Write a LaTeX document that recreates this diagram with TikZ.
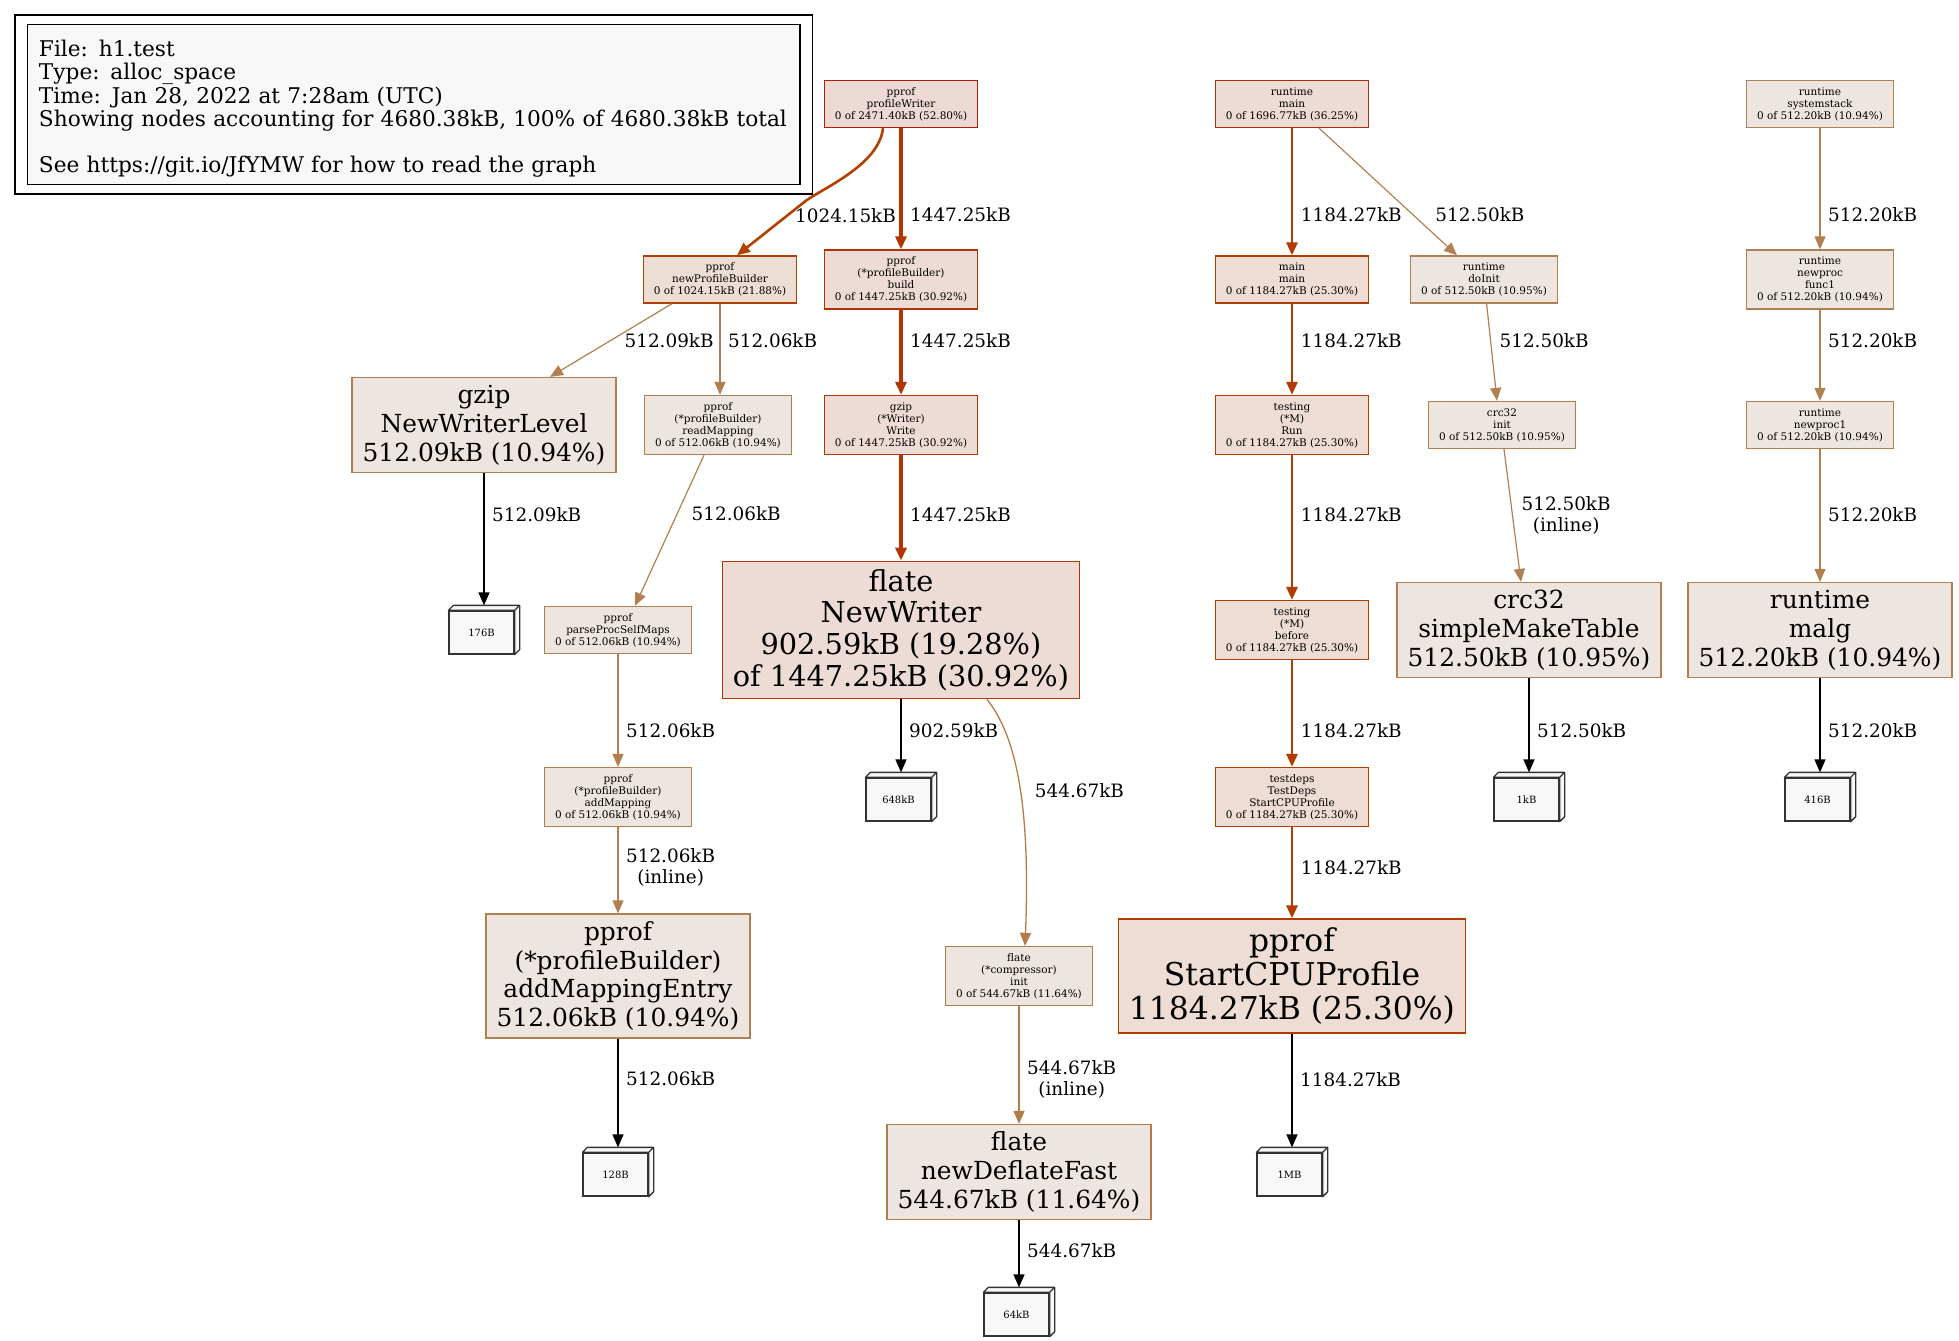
\documentclass[tikz,border=0pt]{standalone}
\usepackage{fontspec}
\setmainfont{DejaVu Serif}
\usetikzlibrary{positioning,arrows.meta}
\definecolor{line528}{HTML}{B21F00}
\definecolor{fill528}{HTML}{EDD9D5}
\definecolor{line362}{HTML}{B22E00}
\definecolor{fill362}{HTML}{EDDBD5}
\definecolor{line309}{HTML}{B23400}
\definecolor{fill309}{HTML}{EDDCD5}
\definecolor{line253}{HTML}{B23C00}
\definecolor{fill253}{HTML}{EDDDD5}
\definecolor{line219}{HTML}{B24100}
\definecolor{fill219}{HTML}{EDDED5}
\definecolor{line116}{HTML}{B27C4A}
\definecolor{fill116}{HTML}{EDE5DF}
\definecolor{line109}{HTML}{B28050}
\definecolor{fill109}{HTML}{EDE6E0}
\definecolor{paper}{HTML}{F8F8F8}

\begin{document}
\begin{tikzpicture}[x=0.5pt,y=0.5pt,on grid,>={Triangle[length=6.5pt,width=5.5pt]},
  fn/.style={draw,align=center,inner xsep=5.25pt,inner ysep=0pt,line width=0.65pt},
  fn8/.style={fn,font=\fontsize{5.24pt}{6pt}\selectfont,minimum height=23.5pt},
  fn8q/.style={fn8,minimum height=29.5pt},
  fn19/.style={fn,font=\fontsize{12.45pt}{14.45pt}\selectfont,minimum height=47.5pt},
  c528/.style={draw=line528,fill=fill528},
  c362/.style={draw=line362,fill=fill362},
  c309/.style={draw=line309,fill=fill309},
  c253/.style={draw=line253,fill=fill253},
  c219/.style={draw=line219,fill=fill219},
  c116/.style={draw=line116,fill=fill116},
  c109/.style={draw=line109,fill=fill109},
  leafbox/.style={draw=black!80,fill=paper,line width=0.65pt,minimum width=32.5pt,minimum height=21.5pt,inner sep=0pt,xshift=-1.25pt,yshift=-1.25pt,font=\fontsize{5pt}{6pt}\selectfont},
  leafline/.style={draw=black!80,fill=paper,line width=0.65pt,line join=round},
  e309/.style={draw=line309,line width=1.6pt},
  e253/.style={draw=line253,line width=1.45pt},
  e219/.style={draw=line219,line width=1.3pt},
  e116/.style={draw=line116,line width=0.65pt},
  e109/.style={draw=line109,line width=0.6pt},
  e0/.style={draw=black,line width=0.7pt},
  lbl/.style={anchor=west,xshift=3.75pt,inner sep=0pt,align=center,font=\fontsize{9.2pt}{10.5pt}\selectfont}]
\useasboundingbox (0,0) rectangle (1959,-1340);

% legend
\node[draw,line width=0.65pt,minimum width=398.75pt,minimum height=89.5pt] (frame) at (413.75,-104.5) {};
\node[draw,fill=paper,line width=0.65pt,text width=374.75pt,inner xsep=5.75pt,minimum height=79.5pt,align=left,font=\fontsize{10.83pt}{11.6pt}\selectfont] (legend) at (413.75,-104.5) {\rule{0pt}{12.6pt}File: h1.test\\Type: alloc\_space\\Time: Jan 28, 2022 at 7:28am (UTC)\\Showing nodes accounting for 4680.38kB, 100\% of 4680.38kB total\\[11.6pt]See https://git.io/JfYMW for how to read the graph};

% writer column
\node[fn8,c528] (pw) at (901,-104) {pprof\\profileWriter\\0 of 2471.40kB (52.80\%)};
\node[fn8q,c309,below=87.75pt of pw] (build) {pprof\\(*profileBuilder)\\build\\0 of 1447.25kB (30.92\%)};
\node[fn8,c219,below left=87.75pt and 90.5pt of pw] (npb) {pprof\\newProfileBuilder\\0 of 1024.15kB (21.88\%)};
\node[fn8q,c309,below=72.75pt of build] (wr) {gzip\\(*Writer)\\Write\\0 of 1447.25kB (30.92\%)};
\node[fn,c309,font=\fontsize{14.4pt}{15.8pt}\selectfont,minimum height=68.75pt,below=102.5pt of wr] (nw) {flate\\NewWriter\\902.59kB (19.28\%)\\of 1447.25kB (30.92\%)};
\node[leafbox,below=83.5pt of nw] (l648) {648kB};
\node[fn8q,c116,below right=173pt and 59pt of nw] (ci) {flate\\(*compressor)\\init\\0 of 544.67kB (11.64\%)};
\node[fn19,c116,below=98pt of ci] (ndf) {flate\\newDeflateFast\\544.67kB (11.64\%)};
\node[leafbox,below=70pt of ndf] (l64) {64kB};

% builder branch
\node[fn19,c109,below left=72.75pt and 118pt of npb] (nwl) {gzip\\NewWriterLevel\\512.09kB (10.94\%)};
\node[leafbox,below=102.5pt of nwl] (l176) {176B};
\node[fn8q,c109,below left=72.75pt and 1pt of npb] (rdm) {pprof\\(*profileBuilder)\\readMapping\\0 of 512.06kB (10.94\%)};
\node[fn8,c109,below left=102.5pt and 50pt of rdm] (psm) {pprof\\parseProcSelfMaps\\0 of 512.06kB (10.94\%)};
\node[fn8q,c109,below=83.5pt of psm] (adm) {pprof\\(*profileBuilder)\\addMapping\\0 of 512.06kB (10.94\%)};
\node[fn19,c109,minimum height=62pt,below=89.5pt of adm] (ame) {pprof\\(*profileBuilder)\\addMappingEntry\\512.06kB (10.94\%)};
\node[leafbox,below=98pt of ame] (l128) {128B};

% main column
\node[fn8,c362] (rm) at (1292,-104) {runtime\\main\\0 of 1696.77kB (36.25\%)};
\node[fn8,c253,below=87.75pt of rm] (mm) {main\\main\\0 of 1184.27kB (25.30\%)};
\node[fn8q,c253,below=72.75pt of mm] (run) {testing\\(*M)\\Run\\0 of 1184.27kB (25.30\%)};
\node[fn8q,c253,below=102.5pt of run] (bef) {testing\\(*M)\\before\\0 of 1184.27kB (25.30\%)};
\node[fn8q,c253,below=83.5pt of bef] (tdp) {testdeps\\TestDeps\\StartCPUProfile\\0 of 1184.27kB (25.30\%)};
\node[fn,c253,font=\fontsize{15.7pt}{16.9pt}\selectfont,minimum height=57pt,below=89.5pt of tdp] (scp) {pprof\\StartCPUProfile\\1184.27kB (25.30\%)};
\node[leafbox,below=98pt of scp] (l1mb) {1MB};
\node[fn8,c109,below right=87.75pt and 96pt of rm] (di) {runtime\\doInit\\0 of 512.50kB (10.95\%)};
\node[fn8,c109,below right=72.75pt and 9pt of di] (crc) {crc32\\init\\0 of 512.50kB (10.95\%)};
\node[fn19,c109,below right=102.5pt and 13.5pt of crc] (smt) {crc32\\simpleMakeTable\\512.50kB (10.95\%)};
\node[leafbox,below=83.5pt of smt] (l1kb) {1kB};

% systemstack column
\node[fn8,c109] (ss) at (1820,-104) {runtime\\systemstack\\0 of 512.20kB (10.94\%)};
\node[fn8q,c109,below=87.75pt of ss] (f1) {runtime\\newproc\\func1\\0 of 512.20kB (10.94\%)};
\node[fn8,c109,below=72.75pt of f1] (np1) {runtime\\newproc1\\0 of 512.20kB (10.94\%)};
\node[fn19,c109,below=102.5pt of np1] (malg) {runtime\\malg\\512.20kB (10.94\%)};
\node[leafbox,below=83.5pt of malg] (l416) {416B};

% 3d faces of the leaf boxes
\foreach \n in {l648,l64,l176,l128,l1mb,l1kb,l416}
  \draw[leafline] (\n.north west) -- ++(2.5pt,2.5pt) -- ([shift={(2.5pt,2.5pt)}]\n.north east) -- ([shift={(2.5pt,2.5pt)}]\n.south east) -- (\n.south east) -- (\n.north east) -- cycle (\n.north east) -- ++(2.5pt,2.5pt);

% edges
\draw[->,e219] ([xshift=-9pt]pw.south) .. controls +(-2pt,-18pt) and +(10pt,7pt) .. ++(-38.5pt,-36.25pt) -- node[lbl,pos=0.27,xshift=-0.5pt] {1024.15kB} ([xshift=8.5pt]npb.north);
\draw[->,e309] (pw.south) -- node[lbl,pos=0.714] {1447.25kB} (build.north);
\draw[->,e309] (build.south) -- node[lbl,pos=0.36] {1447.25kB} (wr.north);
\draw[->,e309] (wr.south) -- node[lbl,pos=0.56] {1447.25kB} (nw.north);
\draw[->,e0] (nw.south) -- node[lbl,pos=0.43] {902.59kB} ([shift={(1.25pt,2.5pt)}]l648.north);
\draw[->,e116] ([xshift=43pt]nw.south) .. controls +(16.5pt,-20.5pt) and +(2.5pt,63pt) .. node[lbl,pos=0.5,xshift=3.25pt] {544.67kB} ([xshift=3pt]ci.north);
\draw[->,e116] (ci.south) -- node[lbl,pos=0.62] {544.67kB\\(inline)} (ndf.north);
\draw[->,e0] (ndf.south) -- node[lbl,pos=0.46] {544.67kB} ([shift={(1.25pt,2.5pt)}]l64.north);

\draw[->,e109] ([xshift=-24pt]npb.south) -- node[lbl,pos=0.5,xshift=2.75pt] {512.09kB} ([xshift=33pt]nwl.north);
\draw[->,e109] (npb.south) -- node[lbl,pos=0.4] {512.06kB} ([xshift=1pt]rdm.north);
\draw[->,e0] (nwl.south) -- node[lbl,pos=0.31] {512.09kB} ([shift={(1.25pt,2.5pt)}]l176.north);
\draw[->,e109] ([xshift=-7pt]rdm.south) -- node[lbl,pos=0.39,xshift=3.25pt] {512.06kB} ([xshift=8.5pt]psm.north);
\draw[->,e109] (psm.south) -- node[lbl,pos=0.68] {512.06kB} (adm.north);
\draw[->,e109] (adm.south) -- node[lbl,pos=0.47] {512.06kB\\(inline)} (ame.north);
\draw[->,e0] (ame.south) -- node[lbl,pos=0.37] {512.06kB} ([shift={(1.25pt,2.5pt)}]l128.north);

\draw[->,e253] (rm.south) -- node[lbl,pos=0.68] {1184.27kB} (mm.north);
\draw[->,e253] (mm.south) -- node[lbl,pos=0.4] {1184.27kB} (run.north);
\draw[->,e253] (run.south) -- node[lbl,pos=0.41] {1184.27kB} (bef.north);
\draw[->,e253] (bef.south) -- node[lbl,pos=0.66] {1184.27kB} (tdp.north);
\draw[->,e253] (tdp.south) -- node[lbl,pos=0.44] {1184.27kB} (scp.north);
\draw[->,e0] (scp.south) -- node[lbl,pos=0.4] {1184.27kB} ([shift={(1.25pt,2.5pt)}]l1mb.north);
\draw[->,e109] ([xshift=13.5pt]rm.south) -- node[lbl,pos=0.68,xshift=7.25pt] {512.50kB} ([xshift=-13.5pt]di.north);
\draw[->,e109] ([xshift=1.3pt]di.south) -- node[lbl,pos=0.376,xshift=0.5pt] {512.50kB} ([xshift=-2.5pt]crc.north);
\draw[->,e109] ([xshift=1pt]crc.south) -- node[lbl,pos=0.5,xshift=0.5pt] {512.50kB\\(inline)} ([xshift=-4pt]smt.north);
\draw[->,e0] (smt.south) -- node[lbl,pos=0.56] {512.50kB} ([shift={(1.25pt,2.5pt)}]l1kb.north);

\draw[->,e109] (ss.south) -- node[lbl,pos=0.714] {512.20kB} (f1.north);
\draw[->,e109] (f1.south) -- node[lbl,pos=0.335] {512.20kB} (np1.north);
\draw[->,e109] (np1.south) -- node[lbl,pos=0.49] {512.20kB} (malg.north);
\draw[->,e0] (malg.south) -- node[lbl,pos=0.56] {512.20kB} ([shift={(1.25pt,2.5pt)}]l416.north);
\end{tikzpicture}
\end{document}
